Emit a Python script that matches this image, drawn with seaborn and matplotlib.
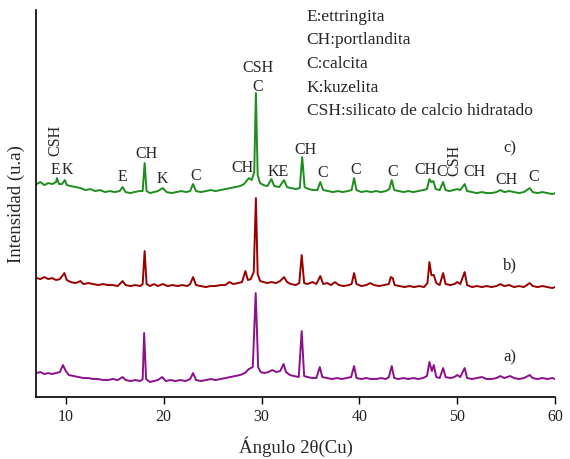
import matplotlib
matplotlib.use("Agg")
import matplotlib.pyplot as plt
import pandas as pd
import seaborn as sns

# muestra c) (verde)
x_c = [7.0, 7.4, 7.8, 8.2, 8.6, 9.0, 9.1, 9.3, 9.6, 9.9, 10.1, 10.5, 11.0, 11.5, 12.0, 12.5,
       13.0, 13.5, 14.0, 14.5, 15.0, 15.5, 15.8, 16.1, 16.6, 17.0, 17.5, 17.85, 18.05, 18.25,
       18.6, 19.0, 19.4, 19.9, 20.3, 20.8, 21.3, 21.8, 22.3, 22.7, 23.0, 23.3, 23.8, 24.3, 24.8,
       25.3, 25.8, 26.3, 26.8, 27.3, 27.8, 28.2, 28.7, 29.0, 29.25, 29.42, 29.6, 29.85, 30.2,
       30.6, 31.0, 31.3, 31.8, 32.3, 32.6, 33.0, 33.5, 33.9, 34.15, 34.4, 34.8, 35.3, 35.7, 36.0,
       36.3, 36.8, 37.3, 37.8, 38.3, 38.8, 39.2, 39.45, 39.7, 40.2, 40.7, 41.2, 41.7, 42.2, 42.7,
       43.05, 43.3, 43.55, 44.0, 44.5, 45.0, 45.5, 46.0, 46.5, 46.9, 47.15, 47.35, 47.55, 47.8,
       48.2, 48.55, 48.8, 49.2, 49.6, 50.0, 50.3, 50.75, 51.0, 51.5, 52.0, 52.5, 53.0, 53.5,
       54.0, 54.4, 54.8, 55.3, 55.8, 56.3, 56.8, 57.4, 57.7, 58.2, 58.7, 59.2, 59.7, 60.0]
y_c = [213, 215, 212, 214, 213, 215, 219, 213, 213, 217, 212, 211, 210, 209, 207, 208,
       206, 207, 205, 206, 205, 206, 210, 205, 204, 205, 206, 206, 234, 206,
       204, 205, 206, 209, 205, 204, 205, 206, 205, 206, 213, 206, 205, 206, 207,
       206, 207, 208, 209, 210, 211, 213, 219, 217, 225, 304, 222, 214, 212,
       211, 218, 211, 210, 217, 210, 209, 208, 209, 240, 210, 208, 207, 207, 215,
       207, 206, 205, 206, 205, 206, 207, 219, 207, 205, 206, 205, 206, 205, 206,
       208, 217, 207, 206, 205, 206, 205, 206, 207, 208, 218, 215, 216, 208,
       207, 215, 207, 206, 207, 208, 207, 213, 206, 205, 204, 205, 204, 204,
       205, 207, 205, 206, 205, 204, 205, 209, 205, 204, 205, 204, 203, 204]

# muestra b) (rojo)
x_b = [7.0, 7.4, 7.8, 8.2, 8.6, 9.0, 9.4, 9.85, 10.1, 10.5, 11.0, 11.5, 11.8, 12.3, 12.8, 13.3,
       13.8, 14.3, 14.8, 15.3, 15.8, 16.1, 16.6, 17.1, 17.6, 17.85, 18.05, 18.25, 18.6, 19.0,
       19.4, 19.9, 20.4, 20.9, 21.4, 21.9, 22.4, 22.7, 23.0, 23.3, 23.8, 24.3, 24.8, 25.3, 25.8,
       26.3, 26.7, 27.1, 27.6, 28.0, 28.35, 28.6, 28.9, 29.2, 29.42, 29.6, 29.85, 30.2, 30.6,
       31.0, 31.5, 31.9, 32.3, 32.6, 33.0, 33.5, 33.85, 34.1, 34.35, 34.7, 35.2, 35.6, 36.0,
       36.3, 36.7, 37.1, 37.5, 37.9, 38.4, 38.9, 39.2, 39.45, 39.7, 40.2, 40.7, 41.1, 41.5,
       42.0, 42.5, 43.0, 43.2, 43.4, 43.6, 44.1, 44.6, 45.1, 45.6, 46.1, 46.6, 46.95, 47.15,
       47.35, 47.6, 47.85, 48.2, 48.55, 48.8, 49.3, 49.7, 50.0, 50.3, 50.75, 51.0, 51.5, 52.0,
       52.5, 53.0, 53.5, 54.0, 54.4, 54.8, 55.3, 55.8, 56.3, 56.8, 57.4, 57.7, 58.2, 58.7, 59.2,
       59.7, 60.0]
y_b = [119, 118, 120, 118, 119, 117, 118, 124, 117, 115, 114, 116, 113, 114, 113, 112,
       113, 112, 112, 111, 116, 112, 111, 112, 111, 113, 146, 113, 111, 113,
       111, 113, 111, 112, 111, 112, 111, 113, 120, 112, 111, 110, 111, 111, 112,
       112, 115, 113, 114, 115, 126, 117, 118, 125, 199, 123, 116, 115, 114,
       115, 114, 116, 120, 115, 113, 112, 114, 142, 114, 113, 115, 113, 121,
       113, 114, 112, 115, 112, 111, 112, 113, 124, 113, 111, 112, 114, 112,
       111, 112, 113, 120, 119, 112, 111, 110, 111, 110, 111, 110, 114, 135,
       122, 122, 114, 112, 124, 113, 112, 113, 115, 113, 125, 112, 110, 111,
       110, 111, 110, 111, 113, 111, 112, 110, 111, 110, 114, 111, 110, 111, 110,
       109, 110]

# muestra a) (morado)
x_a = [7.0, 7.4, 7.8, 8.2, 8.6, 9.0, 9.4, 9.7, 10.0, 10.3, 10.8, 11.3, 11.8, 12.3, 12.8, 13.3,
       13.8, 14.3, 14.8, 15.3, 15.8, 16.1, 16.6, 17.1, 17.6, 17.85, 18.0, 18.2, 18.6, 19.0,
       19.4, 19.85, 20.2, 20.7, 21.2, 21.7, 22.2, 22.7, 23.0, 23.3, 23.8, 24.3, 24.8, 25.3,
       25.8, 26.3, 26.8, 27.3, 27.8, 28.3, 28.7, 29.1, 29.4, 29.65, 29.9, 30.3, 30.7, 31.1,
       31.5, 31.9, 32.25, 32.5, 32.9, 33.3, 33.8, 34.1, 34.35, 34.7, 35.2, 35.6, 35.95, 36.2,
       36.7, 37.2, 37.7, 38.2, 38.7, 39.15, 39.45, 39.7, 40.2, 40.7, 41.2, 41.7, 42.2, 42.7,
       43.0, 43.3, 43.55, 44.0, 44.5, 45.0, 45.5, 46.0, 46.5, 46.9, 47.15, 47.4, 47.6, 47.85,
       48.2, 48.55, 48.8, 49.3, 49.7, 50.0, 50.3, 50.75, 51.0, 51.5, 52.0, 52.5, 53.0, 53.5,
       54.0, 54.4, 54.8, 55.4, 55.8, 56.3, 56.8, 57.4, 57.7, 58.2, 58.7, 59.2, 59.7, 60.0]
y_a = [24, 25, 23, 24, 23, 24, 25, 32, 26, 22, 21, 20, 19, 19, 18, 18,
       17, 17, 18, 17, 20, 17, 16, 17, 16, 18, 64, 18, 15, 16,
       17, 20, 16, 17, 16, 17, 16, 18, 24, 17, 16, 17, 18, 17,
       18, 19, 20, 21, 22, 24, 28, 30, 104, 30, 25, 24, 25, 27,
       25, 26, 33, 25, 22, 21, 20, 66, 21, 20, 19, 19, 30, 20,
       19, 18, 19, 18, 19, 20, 31, 19, 18, 19, 18, 18, 19, 18,
       20, 31, 19, 18, 19, 18, 19, 18, 19, 21, 35, 26, 32, 20,
       19, 29, 20, 19, 20, 22, 20, 29, 19, 18, 19, 20, 18, 18,
       19, 21, 19, 21, 19, 18, 19, 22, 19, 18, 19, 18, 19, 18]

x_ticks = [10, 20, 30, 40, 50, 60]

# etiquetas de fases sobre la curva c): texto, x, y, rotacion
fases = [("CSH", 8.9, 257, 90), ("E", 8.9, 227, 0), ("K", 10.2, 227, 0),
         ("E", 15.8, 220, 0), ("CH", 18.2, 243, 0), ("K", 19.9, 218, 0),
         ("C", 23.3, 221, 0), ("CH", 28.0, 229, 0), ("CSH", 29.6, 329, 0),
         ("C", 29.6, 310, 0), ("KE", 31.7, 225, 0), ("CH", 34.5, 247, 0),
         ("C", 36.2, 224, 0), ("C", 39.6, 227, 0), ("C", 43.4, 225, 0),
         ("CH", 46.8, 227, 0), ("C", 48.4, 225, 0), ("CSH", 49.65, 237, 90),
         ("CH", 51.8, 225, 0), ("CH", 55.0, 217, 0), ("C", 57.8, 220, 0)]

muestras = [("a)", 55.4, 40), ("b)", 55.4, 132), ("c)", 55.4, 249)]

leyenda = ["E:ettringita", "CH:portlandita", "C:calcita", "K:kuzelita",
           "CSH:silicato de calcio hidratado"]

sns.set_style("ticks")
plt.rcParams["font.family"] = ["Liberation Serif", "DejaVu Serif"]

fig = plt.figure(figsize=(5.7, 4.59), dpi=100)
ax = fig.add_axes([0.064, 0.135, 0.910, 0.843])

df_a = pd.DataFrame({"x": x_a, "y": y_a})
df_b = pd.DataFrame({"x": x_b, "y": y_b})
df_c = pd.DataFrame({"x": x_c, "y": y_c})
sns.lineplot(data=df_a, x="x", y="y", ax=ax, color="#8b108b", linewidth=1.4, sort=False)
sns.lineplot(data=df_b, x="x", y="y", ax=ax, color="#990000", linewidth=1.4, sort=False)
sns.lineplot(data=df_c, x="x", y="y", ax=ax, color="#1e8c1e", linewidth=1.4, sort=False)

ax.set_xlim(7, 60)
ax.set_ylim(0, 387)
ax.set_xticks(x_ticks)
ax.set_yticks([])
ax.tick_params(axis="x", direction="out", length=5, width=1, labelsize=11.5, colors="black")
for lbl in ax.get_xticklabels():
    lbl.set_color("#222222")
sns.despine(ax=ax)
for s in ["left", "bottom"]:
    ax.spines[s].set_color("black")
    ax.spines[s].set_linewidth(1.2)

ax.set_xlabel("Ángulo 2θ(Cu)", fontsize=13.5, labelpad=8)
ax.set_ylabel("Intensidad (u.a)", fontsize=13.5, labelpad=8)

for txt, x, y, rot in fases:
    ax.text(x, y, txt, ha="center", va="center", rotation=rot, fontsize=11.5)

for txt, x, y in muestras:
    ax.text(x, y, txt, ha="center", va="center", fontsize=12)

for i, txt in enumerate(leyenda):
    fig.text(0.538, 1 - (17 + 23.5 * i) / 459, txt, ha="left", va="center", fontsize=12.5)

fig.savefig("out.png", dpi=100)
